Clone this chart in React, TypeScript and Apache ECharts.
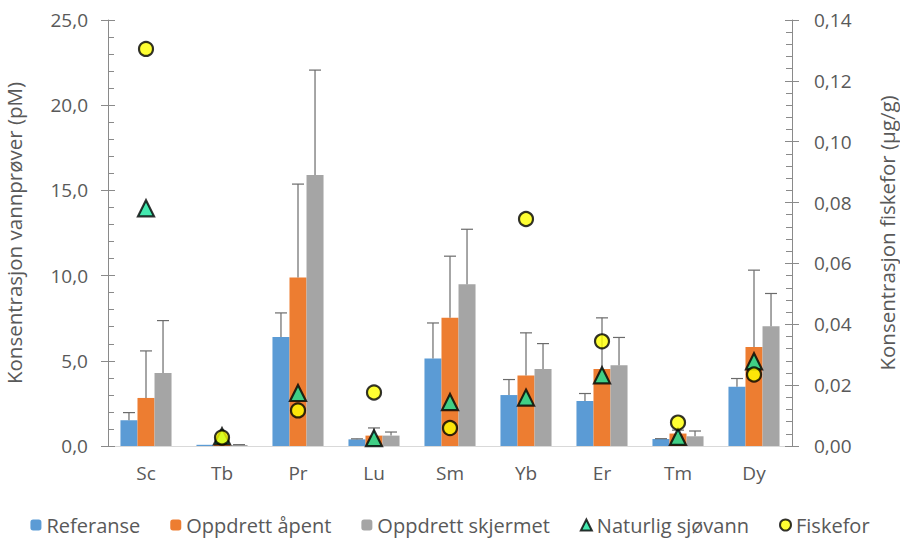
import React, { useEffect, useRef } from "react";
import * as echarts from "echarts";

// Rare earth elements measured
const categories = ["Sc", "Tb", "Pr", "Lu", "Sm", "Yb", "Er", "Tm", "Dy"];

// Mean concentrations in water samples (pM) and their standard deviations
const referanse = [1.51, 0.07, 6.4, 0.39, 5.13, 2.99, 2.64, 0.41, 3.47];
const referanseSd = [0.45, 0, 1.41, 0.03, 2.09, 0.91, 0.44, 0.02, 0.49];
const oppdrettApent = [2.82, 0.1, 9.89, 0.61, 7.52, 4.13, 4.52, 0.73, 5.81];
const oppdrettApentSd = [2.76, 0.05, 5.48, 0.45, 3.62, 2.51, 3.0, 0.2, 4.51];
const oppdrettSkjermet = [4.29, 0.06, 15.91, 0.61, 9.49, 4.52, 4.74, 0.57, 7.03];
const oppdrettSkjermetSd = [3.07, 0.02, 6.15, 0.21, 3.23, 1.49, 1.63, 0.31, 1.92];

// Natural seawater (pM, left axis) and fish feed (µg/g, right axis)
const naturligSjovann = [13.95, 0.57, 3.11, 0.46, 2.58, 2.84, 4.15, 0.53, 4.97];
const fiskefor = [0.1305, 0.0028, 0.0117, 0.0176, 0.0059, 0.0746, 0.0344, 0.0077, 0.0235];

// Axis settings
const leftMax = 25;
const leftInterval = 5;
const rightMax = 0.14;
const rightInterval = 0.02;

const FONT = "'Open Sans', 'Noto Sans', sans-serif";
const TEXT = "#595959";
const AXIS = "#8a8a8a";
const BAR_WIDTH = 0.224;
const LABEL_SIZE = 19;
const TITLE_SIZE = 20.5;

const fmt = (v: number, d: number) => v.toFixed(d).replace(".", ",");

function errorSeries(values: number[], sd: number[], offset: number) {
  return {
    type: "custom",
    yAxisIndex: 0,
    z: 3,
    silent: true,
    encode: { x: 0, y: [1, 2] },
    data: values.map((v, i) => [i, v, v + sd[i]]),
    renderItem: (params: any, api: any) => {
      const i = api.value(0);
      const v = api.value(1);
      const top = api.value(2);
      if (top - v <= 0) return { type: "group", children: [] };
      const base = api.coord([i, v]);
      const tip = api.coord([i, top]);
      const band = api.size([1, 0])[0];
      const x = base[0] + offset * band * BAR_WIDTH;
      const style = { stroke: "#6b6b6b", lineWidth: 1.2 };
      return {
        type: "group",
        children: [
          { type: "line", shape: { x1: x, y1: base[1], x2: x, y2: tip[1] }, style },
          { type: "line", shape: { x1: x - 6, y1: tip[1], x2: x + 6, y2: tip[1] }, style },
        ],
      };
    },
  };
}

export default function App() {
  const ref = useRef<HTMLDivElement>(null);

  useEffect(() => {
    if (!ref.current) return;
    const chart = echarts.init(ref.current, undefined, { renderer: "svg" });

    const baseY = {
      type: "value",
      splitLine: { show: false },
    };

    chart.setOption({
      animation: false,
      backgroundColor: "#ffffff",
      textStyle: { fontFamily: FONT },
      grid: {
        left: 108,
        right: 108,
        top: 20,
        bottom: 95,
        containLabel: false,
        outerBoundsMode: "none",
      },
      legend: {
        bottom: 1,
        left: "center",
        itemWidth: 11,
        itemHeight: 11,
        itemGap: 30,
        textStyle: { fontFamily: FONT, fontSize: 20, color: TEXT },
        data: [
          "Referanse",
          "Oppdrett åpent",
          "Oppdrett skjermet",
          "Naturlig sjøvann",
          "Fiskefor",
        ],
      },
      xAxis: {
        type: "category",
        data: categories,
        axisLine: { show: true, lineStyle: { color: "#d9d9d9", width: 1 } },
        axisTick: { show: false },
        axisLabel: { color: TEXT, fontSize: LABEL_SIZE, fontFamily: FONT, margin: 17 },
        splitLine: { show: false },
      },
      yAxis: [
        {
          ...baseY,
          position: "left",
          min: 0,
          max: leftMax,
          interval: leftInterval,
          name: "Konsentrasjon vannprøver (pM)",
          nameLocation: "middle",
          nameRotate: 90,
          nameGap: 84,
          nameTextStyle: { color: TEXT, fontSize: TITLE_SIZE, fontFamily: FONT },
          axisLine: { show: true, lineStyle: { color: AXIS } },
          axisTick: { show: true, length: 7, lineStyle: { color: AXIS } },
          axisLabel: {
            color: TEXT,
            fontSize: LABEL_SIZE,
            fontFamily: FONT,
            margin: 20,
            formatter: (v: number) => fmt(v, 1),
          },
        },
        {
          ...baseY,
          position: "right",
          min: 0,
          max: rightMax,
          interval: rightInterval,
          name: "Konsentrasjon fiskefor (µg/g)",
          nameLocation: "middle",
          nameRotate: 90,
          nameGap: 84,
          nameTextStyle: { color: TEXT, fontSize: TITLE_SIZE, fontFamily: FONT },
          axisLine: { show: true, lineStyle: { color: AXIS } },
          axisTick: { show: true, length: 7, lineStyle: { color: AXIS } },
          axisLabel: {
            color: TEXT,
            fontSize: LABEL_SIZE,
            fontFamily: FONT,
            margin: 22,
            formatter: (v: number) => fmt(v, 2),
          },
        },
        {
          ...baseY,
          position: "left",
          min: 0,
          max: leftMax,
          interval: leftInterval,
          axisLine: { show: false },
          axisLabel: { show: false },
          axisTick: { show: true, inside: true, length: 7, lineStyle: { color: AXIS } },
          minorTick: { show: true, splitNumber: 5, length: 6, lineStyle: { color: AXIS } },
        },
        {
          ...baseY,
          position: "right",
          min: 0,
          max: rightMax,
          interval: rightInterval,
          axisLine: { show: false },
          axisLabel: { show: false },
          axisTick: { show: true, inside: true, length: 7, lineStyle: { color: AXIS } },
          minorTick: { show: true, splitNumber: 5, length: 6, lineStyle: { color: AXIS } },
        },
      ],
      series: [
        {
          name: "Referanse",
          type: "bar",
          yAxisIndex: 0,
          barWidth: `${BAR_WIDTH * 100}%`,
          barGap: "0%",
          itemStyle: { color: "#5b9bd5" },
          data: referanse,
          z: 2,
        },
        {
          name: "Oppdrett åpent",
          type: "bar",
          yAxisIndex: 0,
          barWidth: `${BAR_WIDTH * 100}%`,
          barGap: "0%",
          itemStyle: { color: "#ed7d31" },
          data: oppdrettApent,
          z: 2,
        },
        {
          name: "Oppdrett skjermet",
          type: "bar",
          yAxisIndex: 0,
          barWidth: `${BAR_WIDTH * 100}%`,
          barGap: "0%",
          itemStyle: { color: "#a5a5a5" },
          data: oppdrettSkjermet,
          z: 2,
        },
        errorSeries(referanse, referanseSd, -1),
        errorSeries(oppdrettApent, oppdrettApentSd, 0),
        errorSeries(oppdrettSkjermet, oppdrettSkjermetSd, 1),
        {
          name: "Naturlig sjøvann",
          type: "scatter",
          yAxisIndex: 0,
          symbol: "triangle",
          symbolSize: [16, 16],
          itemStyle: { color: "#14e39b", borderColor: "#000000", borderWidth: 2.2 },
          data: naturligSjovann,
          z: 5,
        },
        {
          name: "Fiskefor",
          type: "scatter",
          yAxisIndex: 1,
          symbol: "circle",
          symbolSize: 14,
          itemStyle: { color: "#ffff00", borderColor: "#000000", borderWidth: 2.2 },
          data: fiskefor,
          z: 6,
        },
      ],
    });

    return () => chart.dispose();
  }, []);

  return (
    <div
      ref={ref}
      style={{ position: "fixed", left: 0, top: 0, width: 900, height: 541, background: "#fff" }}
    />
  );
}
